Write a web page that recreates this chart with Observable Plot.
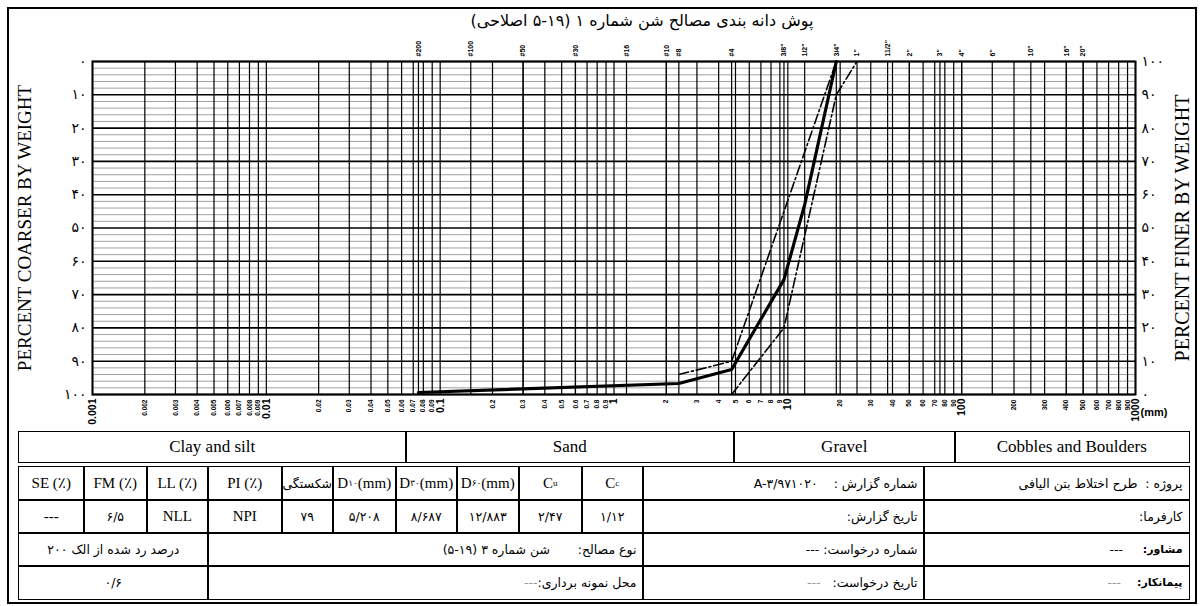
<!DOCTYPE html>
<html><head><meta charset="utf-8">
<script src="https://cdn.jsdelivr.net/npm/d3@7"></script>
<script src="https://cdn.jsdelivr.net/npm/@observablehq/plot@0.6"></script>
<style>
body{margin:0;background:#fff;}
#wrap{position:relative;width:1202px;height:606px;overflow:hidden;background:#fff;}
#wrap svg{position:absolute;left:0;top:0;}
.frame{position:absolute;left:7px;top:7px;width:1186px;height:593px;border:2px solid #000;}
.title{position:absolute;top:11px;left:342px;width:600px;text-align:center;direction:rtl;font:16px "DejaVu Sans";}
.cell{position:absolute;box-sizing:border-box;border:1.5px solid #000;display:flex;align-items:center;justify-content:center;font-family:"Liberation Serif","DejaVu Sans";font-size:15px;white-space:nowrap;overflow:hidden;}
.cls{font-size:17px;}
.fa{font-family:"DejaVu Sans";font-size:12.5px;direction:rtl;}
.rt{justify-content:flex-start;padding-right:6px;}
.gray{color:#999;}
.small{font-size:11px;font-weight:bold;}
sub{font-size:60%;}
</style></head>
<body><div id="wrap"></div>
<script>
// ---------- data ----------
const titleText = "پوش دانه بندی مصالح شن شماره ۱ (۱۹-۵ اصلاحی)";
const yLeftTitle = "PERCENT COARSER BY WEIGHT";
const yRightTitle = "PERCENT FINER BY WEIGHT";

const xTickLabels = ["0.001","0.002","0.003","0.004","0.005","0.006","0.007","0.008","0.009",
  "0.01","0.02","0.03","0.04","0.05","0.06","0.07","0.08","0.09",
  "0.1","0.2","0.3","0.4","0.5","0.6","0.7","0.8","0.9",
  "1","2","3","4","5","6","7","8","9",
  "10","20","30","40","50","60","70","80","90",
  "100","200","300","400","500","600","700","800","900","1000"];
const xMajorLabels = ["0.001","0.01","0.1","1","10","100","1000"];

const sieveSizes  = [0.075, 0.15, 0.3, 0.6, 1.18, 2.0, 2.36, 4.75, 9.5, 12.5, 19, 25, 37.5, 50, 75, 100, 150, 250, 400, 500];
const sieveLabels = ["#200","#100","#50","#30","#16","#10","#8","#4","3/8\"","1/2\"","3/4\"","1\"","11/2\"","2\"","3\"","4\"","6\"","10\"","16\"","20\""];

const yMajorTicks = [0,10,20,30,40,50,60,70,80,90,100];
const yMinorTicks = [2,4,6,8,12,14,16,18,22,24,26,28,32,34,36,38,42,44,46,48,52,54,56,58,62,64,66,68,72,74,76,78,82,84,86,88,92,94,96,98];

// gradation curve (percent finer)
const gradSize = [0.075, 2.36, 4.75, 9.5, 12.5, 19];
const gradPass = [0.6, 3.3, 7.5, 34.5, 57, 100];
// specification limits
const upperSize = [2.36, 4.75, 9.5, 19];
const upperPass = [6, 10, 55, 100];
const lowerSize = [4.75, 9.5, 19, 25];
const lowerPass = [0, 20, 90, 100];

// soil class bands
const classNames = ["Clay and silt","Sand","Gravel","Cobbles and Boulders"];

// table texts
const headerCells = ["SE (٪)","FM (٪)","LL (٪)","PI (٪)","شکستگی","D<sub>۱۰</sub>(mm)","D<sub>۳۰</sub>(mm)","D<sub>۶۰</sub>(mm)","C<sub>u</sub>","C<sub>c</sub>"];
const valueCells  = ["---","6/5","NLL","NPI","79","5/208","8/687","12/883","2/47","1/12"];
const reportNo = "A-3/971020";
const projectName = "طرح اختلاط بتن الیافی";
const passing200 = "0/6";
const materialType = "شن شماره ۳ (۱۹-۵)";

// ---------- helpers ----------
const fa = s => String(s).replace(/\d/g, d => "۰۱۲۳۴۵۶۷۸۹"[d]);
const grad = gradSize.map((s,i)=>({size:s, pass:gradPass[i]}));
const upper = upperSize.map((s,i)=>({size:s, pass:upperPass[i]}));
const lower = lowerSize.map((s,i)=>({size:s, pass:lowerPass[i]}));
const sieves = sieveSizes.map((s,i)=>({size:s, label:sieveLabels[i]}));

const wrap = document.getElementById("wrap");
const fr = document.createElement("div"); fr.className="frame"; wrap.appendChild(fr);

const chart = Plot.plot({
  width:1202, height:430,
  marginLeft:92, marginRight:67, marginTop:61, marginBottom:36,
  x:{type:"log", domain:[0.001,1000], axis:null},
  y:{domain:[0,100], axis:null},
  style:{background:"transparent", overflow:"visible"},
  marks:[
    Plot.ruleY(yMinorTicks, {stroke:"#a0a0a0", strokeWidth:1}),
    Plot.ruleY(yMajorTicks, {stroke:"#000", strokeWidth:1.6}),
    Plot.ruleX(xTickLabels.map(Number), {stroke:"#000", strokeWidth:1.2}),
    Plot.ruleX(sieveSizes, {stroke:"#000", strokeWidth:1.2}),
    Plot.line(upper, {x:"size", y:"pass", stroke:"#000", strokeWidth:1.6, strokeDasharray:"10,3,2,3"}),
    Plot.line(lower, {x:"size", y:"pass", stroke:"#000", strokeWidth:1.6, strokeDasharray:"10,3,2,3"}),
    Plot.line(grad, {x:"size", y:"pass", stroke:"#000", strokeWidth:3.2}),
    Plot.frame({stroke:"#000", strokeWidth:2}),
    Plot.text(yMajorTicks, {x:()=>0.001, y:d=>d, text:d=>fa(100-d), textAnchor:"end", dx:-6, fontSize:14, fontFamily:"DejaVu Sans"}),
    Plot.text(yMajorTicks, {x:()=>1000, y:d=>d, text:d=>fa(d), textAnchor:"start", dx:6, fontSize:14, fontFamily:"DejaVu Sans"}),
    Plot.text(xTickLabels.filter(d=>!xMajorLabels.includes(d)), {x:d=>+d, y:()=>0, text:d=>d, rotate:-90, textAnchor:"end", dy:5, fontSize:6.5, fontWeight:"bold", fontFamily:"Liberation Sans"}),
    Plot.text(xMajorLabels, {x:d=>+d, y:()=>0, text:d=>d, rotate:-90, textAnchor:"end", dy:4, fontSize:10.5, fontWeight:"bold", fontFamily:"Liberation Sans"}),
    Plot.text(sieves, {x:"size", y:()=>100, text:"label", rotate:-90, textAnchor:"start", dy:-5, fontSize:7, fontWeight:"bold", fontFamily:"Liberation Sans"}),
    Plot.text(["(mm)"], {x:()=>1000, y:()=>0, text:d=>d, textAnchor:"start", dx:5, dy:18, fontSize:11, fontWeight:"bold", fontFamily:"Liberation Sans"}),
    Plot.text([yLeftTitle], {x:()=>0.001, y:()=>50, text:d=>d, rotate:-90, textAnchor:"middle", dx:-68, fontSize:19, fontFamily:"Liberation Serif"}),
    Plot.text([yRightTitle], {x:()=>1000, y:()=>50, text:d=>d, rotate:-90, textAnchor:"middle", dx:47, fontSize:20, fontFamily:"Liberation Serif"})
  ]
});
wrap.appendChild(chart);

const t = document.createElement("div"); t.className="title"; t.textContent=titleText; wrap.appendChild(t);

function cell(x0,x1,y0,y1,html,cls){
  const d=document.createElement("div");
  d.className="cell "+(cls||"");
  d.style.left=x0+"px"; d.style.top=y0+"px";
  d.style.width=(x1-x0+1.5)+"px"; d.style.height=(y1-y0+1.5)+"px";
  d.innerHTML=html; wrap.appendChild(d); return d;
}
// class row
const classX=[18,405,733,954,1188];
classNames.forEach((n,i)=>cell(classX[i],classX[i+1],431,461,n,"cls"));
// main table
const cx=[18,83,146,207,281,332,395,456,518,581,642,923,1188];
const ry=[466,499,532,565,598];
headerCells.forEach((h,i)=>cell(cx[i],cx[i+1],ry[0],ry[1],h,i===4?"fa":""));
valueCells.forEach((v,i)=>cell(cx[i],cx[i+1],ry[1],ry[2],/\d/.test(v)?fa(v):v,/\d/.test(v)?"fa":""));
cell(cx[10],cx[11],ry[0],ry[1],"شماره گزارش : &nbsp;&nbsp; "+fa(reportNo),"fa rt");
cell(cx[11],cx[12],ry[0],ry[1],"پروژه : &nbsp;"+projectName,"fa rt");
cell(cx[10],cx[11],ry[1],ry[2],"تاریخ گزارش:","fa rt");
cell(cx[11],cx[12],ry[1],ry[2],"کارفرما:","fa rt");
cell(cx[0],cx[3],ry[2],ry[3],"درصد رد شده از الک "+fa(200),"fa");
cell(cx[3],cx[10],ry[2],ry[3],"نوع مصالح: &nbsp;&nbsp;&nbsp;&nbsp;&nbsp; "+materialType,"fa rt");
cell(cx[10],cx[11],ry[2],ry[3],"شماره درخواست: ---","fa rt");
cell(cx[11],cx[12],ry[2],ry[3],"<span class='small'>مشاور:</span> &nbsp;&nbsp;&nbsp;&nbsp; ---","fa rt");
cell(cx[0],cx[3],ry[3],ry[4],fa(passing200),"fa");
cell(cx[3],cx[10],ry[3],ry[4],"محل نمونه برداری: <span class='gray'>---</span>","fa rt");
cell(cx[10],cx[11],ry[3],ry[4],"تاریخ درخواست: &nbsp;&nbsp;<span class='gray'>---</span>","fa rt");
cell(cx[11],cx[12],ry[3],ry[4],"<span class='small'>پیمانکار:</span> &nbsp;&nbsp;&nbsp;&nbsp;<span class='gray'>---</span>","fa rt");
</script></body></html>
